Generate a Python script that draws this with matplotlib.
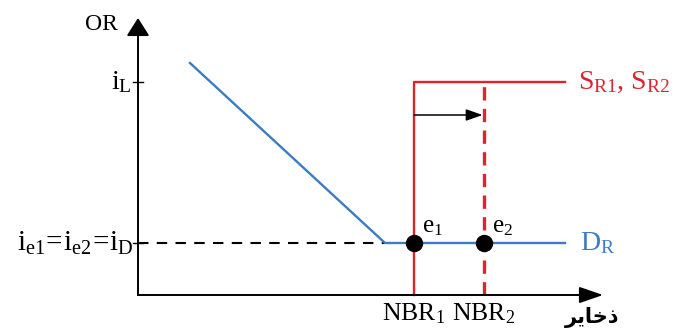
import matplotlib
matplotlib.use("Agg")
import matplotlib.pyplot as plt

plt.rcParams['font.family'] = ['Liberation Serif', 'DejaVu Sans']
plt.rcParams['mathtext.fontset'] = 'custom'
plt.rcParams['mathtext.rm'] = 'Liberation Serif'
plt.rcParams['mathtext.it'] = 'Liberation Serif:italic'

# Data (abstract units: origin at axes crossing)
demand_x = [52, 247, 427]
demand_y = [232, 52, 52]
supply1_x = [276, 276, 427]
supply1_y = [0, 213, 213]
supply2_x = [346, 346]
supply2_y = [0, 210]
i_L = 213
i_D = 52
nbr = [276, 346]
eq_labels = ['$\\mathrm{e}_1$', '$\\mathrm{e}_2$']
nbr_labels = ['$\\mathrm{NBR}_1$', '$\\mathrm{NBR}_2$']
shift_y = 180
x_axis_end = 465
y_axis_end = 277

RED = '#e0242c'
BLUE = '#3b7cc2'

fig = plt.figure(figsize=(6.73, 3.28), dpi=100)
ax = fig.add_axes([0, 0, 1, 1])
ax.set_xlim(-138, 535)
ax.set_ylim(-33, 295)
ax.axis('off')

# axes with arrows
ax.annotate('', xy=(x_axis_end, 0), xytext=(0, 0),
            arrowprops=dict(arrowstyle='-|>,head_length=1.45,head_width=0.5', color='black', lw=1.4, shrinkA=0, shrinkB=0))
ax.annotate('', xy=(0, y_axis_end), xytext=(0, 0),
            arrowprops=dict(arrowstyle='-|>,head_length=1.1,head_width=0.7', color='black', lw=1.4, shrinkA=0, shrinkB=0))

# tick marks
ax.plot([-5, 5], [i_L, i_L], color='black', lw=1)
ax.plot([-5, 5], [i_D, i_D], color='black', lw=1)

# dashed equilibrium level
ax.plot([0, demand_x[1]], [i_D, i_D], color='black', lw=1.5, ls=(0, (5, 4)))

# demand
ax.plot(demand_x, demand_y, color=BLUE, lw=1.7)

# supply
ax.plot(supply1_x, supply1_y, color=RED, lw=1.7)
ax.plot(supply2_x, supply2_y, color=RED, lw=2.4, ls=(0, (4, 2.5)))

# shift arrow
ax.annotate('', xy=(nbr[1], shift_y), xytext=(nbr[0], shift_y),
            arrowprops=dict(arrowstyle='-|>,head_length=1.0,head_width=0.35', color='black', lw=1.1, shrinkA=0, shrinkB=1))

# equilibrium points
ax.plot(nbr, [i_D, i_D], 'o', color='black', markersize=11.5, zorder=5)
for xv, lab in zip(nbr, eq_labels):
    ax.text(xv + 8, i_D + 5, lab, fontsize=18, ha='left', va='bottom')

# labels
ax.text(-20, 270, 'OR', fontsize=17, ha='right', va='center')
ax.text(-6, i_L, '$\\mathrm{i}_\\mathrm{L}$', fontsize=20, ha='right', va='center')
ax.text(-5, i_D, '$\\mathrm{i}_{\\mathrm{e1}}\\!=\\!\\mathrm{i}_{\\mathrm{e2}}\\!=\\!\\mathrm{i}_{\\mathrm{D}}$',
        fontsize=21, ha='right', va='center')
ax.text(440, i_L, '$\\mathrm{S}_{\\mathrm{R1}}$, $\\mathrm{S}_{\\mathrm{R2}}$', fontsize=20, color=RED,
        ha='left', va='center')
ax.text(442, i_D, '$\\mathrm{D}_{\\mathrm{R}}$', fontsize=20, color=BLUE, ha='left', va='center')
for xv, lab in zip(nbr, nbr_labels):
    ax.text(xv, -6, lab, fontsize=18.5, ha='center', va='top')

# Persian x-axis label "ذخایر" in presentation forms (visual order)
ax.text(454, -32.5, '\uFEAE\uFBFE\uFE8E\uFEA7\uFEAB', fontsize=15, fontweight='bold',
        ha='center', va='bottom', family=['DejaVu Sans'])

fig.savefig('out.png', dpi=100)
